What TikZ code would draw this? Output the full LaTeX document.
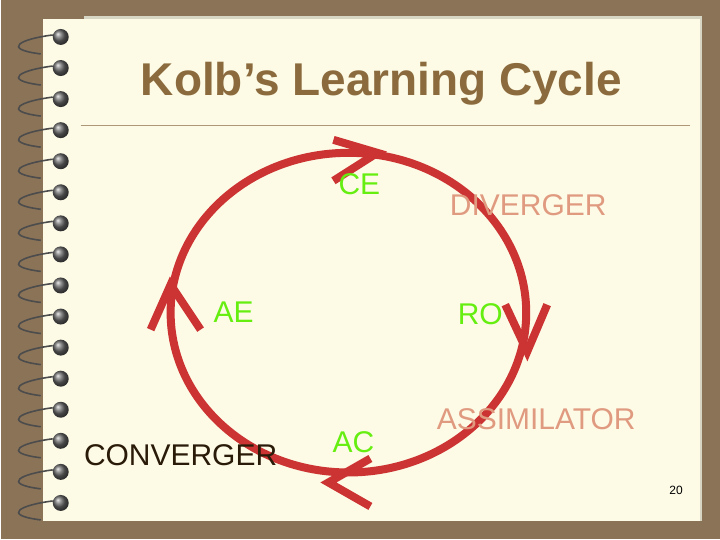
\documentclass[tikz,border=0pt]{standalone}
\usepackage{fontspec}
\setmainfont{Liberation Sans}
\definecolor{bg}{HTML}{8B7358}
\definecolor{paper}{HTML}{FDFBE6}
\definecolor{cred}{HTML}{CC3333}
\definecolor{cgreen}{HTML}{66EE11}
\definecolor{salmon}{HTML}{E09A80}
\definecolor{titlec}{HTML}{8B6B3D}
\definecolor{dark}{HTML}{2A1A08}
\tikzset{
  lbl/.style={font=\fontsize{30}{30}\selectfont, inner sep=0pt},
  stage/.style={lbl, text=cgreen},
  style4/.style={lbl, text=salmon},
  ring/.style={line width=8pt, cred},
  chev/.style={line width=8pt, cred, line join=miter},
}
\begin{document}
\begin{tikzpicture}[x=1pt,y=-1pt]
\fill[bg] (0,0) rectangle (720,540);
\fill[paper!85!black] (83,16) rectangle (702,522);
\fill[paper] (42,19) rectangle (700,522);
\draw[titlec!70, line width=0.8pt] (80,126) -- (690,126);
\node[font=\bfseries\fontsize{46}{46}\selectfont, text=titlec] (title) at (381,84) {Kolb’s Learning Cycle};
% spiral
\foreach \i in {0,...,15}{
  \pgfmathsetmacro\yy{37+\i*31.1}
  \draw[black!70, line width=1.6pt] (52,\yy-2) .. controls (20,\yy+2) and (0,\yy+12) .. (40,\yy+17);
  \shade[ball color=black!60] (60,\yy) circle (8);
}
% cycle
\draw[ring] (348,313) ellipse (178 and 160);
\draw[chev] (333,140) -- (377,153) -- (333,181);
\draw[chev] (505,305) -- (527,352) -- (547,305);
\draw[chev] (370,459) -- (328,483) -- (370,507);
\draw[chev] (150,330) -- (170,285) -- (200,330);
\node[stage] (ce) at (359,184) {CE};
\node[stage] (ae) at (233,313) {AE};
\node[stage] (ro) at (480,315) {RO};
\node[stage] (ac) at (353,443) {AC};
\node[style4] (div) at (528,205) {DIVERGER};
\node[style4] (ass) at (536,420) {ASSIMILATOR};
\node[lbl, text=dark] (conv) at (180,456) {CONVERGER};
\node[font=\fontsize{12}{12}\selectfont] (num) at (676,491) {20};
\end{tikzpicture}
\end{document}
